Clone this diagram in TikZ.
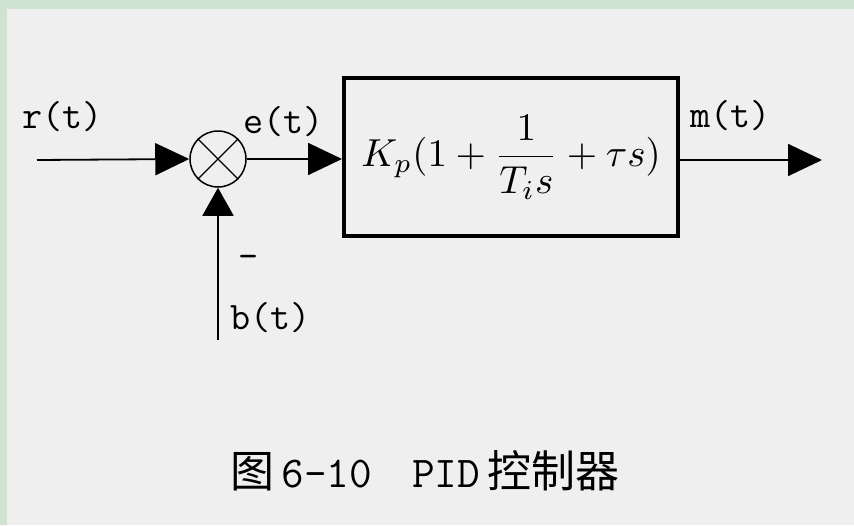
\documentclass[tikz,border=0pt]{standalone}
\usepackage{fontspec}
\usepackage{amsmath}
\usepackage{graphicx}
\usetikzlibrary{arrows.meta}
\newfontfamily\cjk{Noto Sans CJK SC}
\definecolor{bggreen}{HTML}{CFE3D0}
\definecolor{panel}{HTML}{EFEFEF}
\tikzset{
  sig/.style={line width=1.8pt,-{Triangle[length=34pt,width=32pt]}},
  lbl/.style={font=\ttfamily\fontsize{39}{42}\selectfont,inner sep=0pt,anchor=base west},
  blk/.style={draw,line width=4pt,minimum width=334pt,minimum height=158pt,inner sep=0pt},
}
\begin{document}
\begin{tikzpicture}[x=1pt,y=-1pt]
\useasboundingbox (0,0) rectangle (854,525);
\fill[bggreen] (0,0) rectangle (854,525);
\fill[panel] (7,9) rectangle (854,525);
% summing junction
\node[draw,circle,line width=1.5pt,minimum size=56pt,inner sep=0pt] (sum) at (218,159) {};
\draw[line width=1.2pt] (sum.north west) -- (sum.south east) (sum.north east) -- (sum.south west);
% block
\node[blk] (pid) at (511,157) {\scalebox{3.9}{$K_p(1+\dfrac{1}{T_is}+\tau s)$}};
% coordinates
\coordinate (in) at (37,160);
\coordinate (out) at (822,160);
\coordinate (fb) at (218,340);
\draw[sig] (in) -- (sum.west);
\draw[sig] (sum.east) -- (pid.west |- sum.east);
\draw[sig] (pid.east |- out) -- (out);
\draw[sig,-{Triangle[length=28pt,width=31pt]}] (fb) -- (sum.south);
% labels
\node[lbl] (lr) at (22,128) {r(t)};
\node[lbl] (le) at (243,133) {e(t)};
\node[lbl] (lm) at (690,127) {m(t)};
\node[lbl] (lb) at (230,329) {b(t)};
\node[lbl] (lminus) at (238,268) {-};
% caption
\node[inner sep=0pt,anchor=base west] (cap) at (230,487) {\cjk\fontsize{44}{48}\selectfont 图\,{\ttfamily 6-10}\hspace{40pt}{\ttfamily PID}\,控制器};
\end{tikzpicture}
\end{document}
